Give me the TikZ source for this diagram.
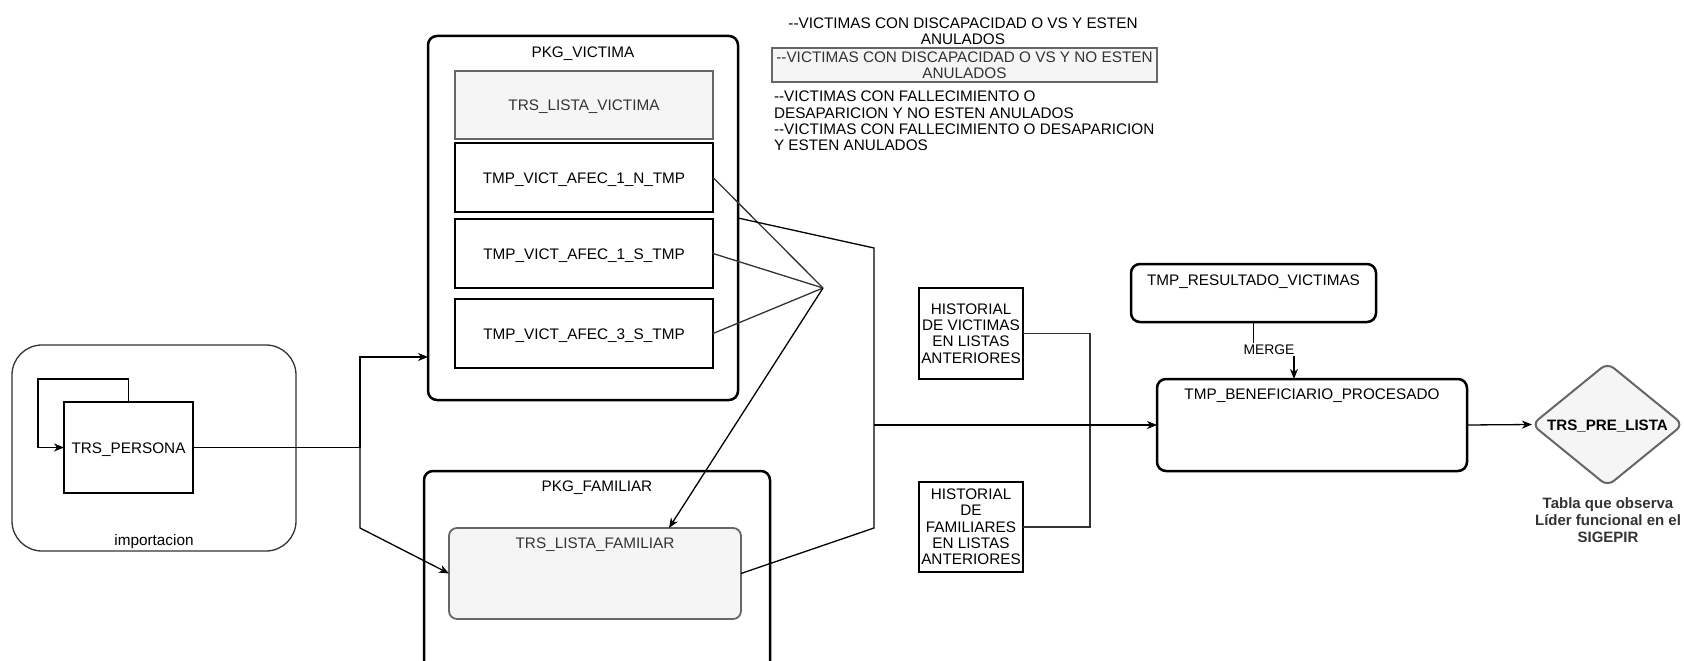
\documentclass[tikz,border=0pt]{standalone}
\usepackage{fontspec}
\setmainfont{Liberation Sans}[Ligatures=TeXOff]
\usetikzlibrary{arrows.meta,calc}
\definecolor{lg}{HTML}{F5F5F5}
\definecolor{dg}{HTML}{666666}
\definecolor{tg}{HTML}{333333}
\begin{document}
\begin{tikzpicture}[x=1pt,y=-1pt,
  font=\fontsize{15.3pt}{16.3pt}\selectfont,
  every node/.style={inner sep=0pt, outer sep=0pt},
  one/.style={text height=11pt, text depth=0pt},
  box/.style={draw=black, line width=1.3pt, rectangle},
  grey/.style={fill=lg, draw=dg, text=tg},
  pkg/.style={draw=black, line width=2.5pt, rounded corners=9pt},
  conn/.style={line width=1.3pt, draw=black},
  gconn/.style={line width=1.3pt, draw=tg},
  arr/.style={conn, -{Stealth[length=10pt,width=8pt,inset=3pt]}}]
\useasboundingbox (0,0) rectangle (1684,661);

% importacion container
\node[box, draw=tg, minimum width=284pt, minimum height=206pt, rounded corners=30pt] (imp) at (154,448) {};
\node[one] (impl) at (154,540) {importacion};
\node[box, one, minimum width=129pt, minimum height=91pt] (per) at (128.5,447.5) {TRS\_PERSONA};
\draw[arr] (per.north) -- ++(0,-23) -| ($(per.west)+(-26,0)$) -- (per.west);

% PKG_VICTIMA
\node[pkg, minimum width=310pt, minimum height=364pt] (pkgv) at (583,218) {};
\node[one] (pkgvt) at (583,52) {PKG\_VICTIMA};
\node[box, grey, one, minimum width=258pt, minimum height=68pt] (lv) at (584,105) {TRS\_LISTA\_VICTIMA};
\node[box, one, minimum width=258pt, minimum height=69pt] (n1) at (584,177.5) {TMP\_VICT\_AFEC\_1\_N\_TMP};
\node[box, one, minimum width=258pt, minimum height=69pt] (s1) at (584,253.5) {TMP\_VICT\_AFEC\_1\_S\_TMP};
\node[box, one, minimum width=258pt, minimum height=69pt] (s3) at (584,333.5) {TMP\_VICT\_AFEC\_3\_S\_TMP};

% PKG_FAMILIAR
\node[pkg, minimum width=346pt, minimum height=219pt] (pkgf) at (597,580.5) {};
\node[one] (pkgft) at (597,486) {PKG\_FAMILIAR};
\node[box, grey, line width=1.8pt, rounded corners=8pt, minimum width=292pt, minimum height=91pt] (lf) at (595,573.5) {};
\node[one, text=tg] (lft) at (595,543) {TRS\_LISTA\_FAMILIAR};

% connectors from TRS_PERSONA
\coordinate (jv) at (360,447.5);
\coordinate (jt) at (360,357);
\coordinate (jb) at (360,528);
\draw[conn] (per.east) -- (jv);
\draw[arr] (jv) -- (jt) -- (pkgv.west |- jt);
\draw[arr] (jv) -- (jb) -- (lf.west);

% convergence of temp tables
\coordinate (cv) at (823,288);
\draw[gconn] (n1.east) -- (cv);
\draw[gconn] (s1.east) -- (cv);
\draw[gconn] (s3.east) -- (cv);
\draw[arr] (cv) -- ($(lf.north)+(74,0)$);

% historial boxes
\node[box, align=center, minimum width=104pt, minimum height=91pt] (hv) at (971,333.5) {HISTORIAL\\DE VICTIMAS\\EN LISTAS\\ANTERIORES};
\node[box, align=center, minimum width=104pt, minimum height=90pt] (hf) at (971,527) {HISTORIAL\\DE\\FAMILIARES\\EN LISTAS\\ANTERIORES};

% result tables
\node[pkg, minimum width=245pt, minimum height=58pt] (res) at (1253.5,293) {};
\node[one] (rest) at (1253.5,280) {TMP\_RESULTADO\_VICTIMAS};
\node[pkg, minimum width=310pt, minimum height=92pt] (bene) at (1312,425) {};
\node[one] (benet) at (1312,394) {TMP\_BENEFICIARIO\_PROCESADO};

% package lines to beneficiario
\coordinate (ka) at (874,248);
\coordinate (kb) at (874,528);
\coordinate (kc) at (874,425);
\draw[conn] (pkgv.east) -- (ka) -- (kb) -- (lf.east);
\coordinate (hx) at (1090,0);
\draw[gconn] (hv.east) -| (hx |- hf.east) -- (hf.east);
\draw[arr] (kc) -- (bene.west);

% merge
\coordinate (m1) at (1253.5,349);
\coordinate (m2) at (1294,349);
\draw[arr] (res.south) -- (m1) -- (m2) -- (m2 |- bene.north);
\node[fill=white, inner sep=1.5pt, font=\fontsize{13.9pt}{15pt}\selectfont, text height=10pt, text depth=0pt] (mg) at (1269,349) {MERGE};

% TRS_PRE_LISTA diamond
\node[minimum width=151pt, minimum height=123pt] (pre) at (1607.5,424.5) {};
\draw[fill=lg, draw=dg, line width=2pt, rounded corners=8pt] ($(pre.west)!0.5!(pre.north)$) -- (pre.north) -- (pre.east) -- (pre.south) -- (pre.west) -- cycle;
\node[one, font=\fontsize{15.1pt}{16pt}\selectfont\bfseries] (pret) at (pre.center) {TRS\_PRE\_LISTA};
\draw[arr] (bene.east) -- (pre.west);
\node[align=center, text=tg, font=\fontsize{15pt}{17pt}\selectfont\bfseries] (cap) at (1608,520) {Tabla que observa\\Líder funcional en el\\SIGEPIR};

% notes top right
\node[align=center] (t1) at (963,31) {--VICTIMAS CON DISCAPACIDAD O VS Y ESTEN\\ANULADOS};
\node[draw=dg, fill=lg, text=tg, line width=1.3pt, minimum width=385pt, minimum height=34pt, align=center] (t2) at (964.5,65) {--VICTIMAS CON DISCAPACIDAD O VS Y NO ESTEN\\ANULADOS};
\node[align=left, anchor=west] (t3) at (774,121) {--VICTIMAS CON FALLECIMIENTO O\\DESAPARICION Y NO ESTEN ANULADOS\\--VICTIMAS CON FALLECIMIENTO O DESAPARICION\\Y ESTEN ANULADOS};
\end{tikzpicture}
\end{document}
